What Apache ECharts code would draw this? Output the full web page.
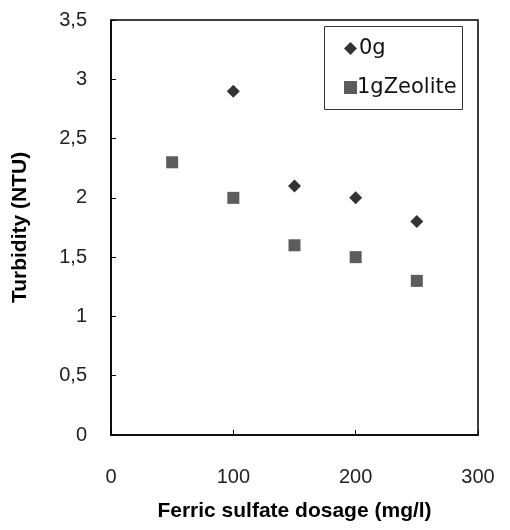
<!DOCTYPE html>
<html><head><meta charset="utf-8">
<script src="https://cdn.jsdelivr.net/npm/echarts@6/dist/echarts.min.js"></script>
<style>html,body{margin:0;padding:0;background:#fff}#c{width:510px;height:530px}</style>
</head><body><div id="c"></div>
<script>
const seriesNames = ['0g', '1gZeolite'];
const dose0g = [100, 150, 200, 250];
const turb0g = [2.9, 2.1, 2.0, 1.8];
const doseZeo = [50, 100, 150, 200, 250];
const turbZeo = [2.3, 2.0, 1.6, 1.5, 1.3];
const xTitle = 'Ferric sulfate dosage (mg/l)';
const yTitle = 'Turbidity (NTU)';

const chart = echarts.init(document.getElementById('c'), null, {renderer: 'canvas'});
const tickFont = {fontFamily: 'Liberation Sans', fontSize: 20, color: '#222'};
const titleFont = {fontFamily: 'Liberation Sans', fontWeight: 'bold', fontSize: 21, color: '#000'};
chart.setOption({
  animation: false,
  backgroundColor: '#fff',
  grid: {left: 111, right: 32, top: 20, bottom: 95, show: true, borderColor: '#000', borderWidth: 1.5},
  graphic: [{type: 'rect', left: 324, top: 26, shape: {width: 138, height: 83}, style: {fill: '#fff', stroke: '#333', lineWidth: 1}, z: 50}],
  legend: {
    left: 339, top: 33, orient: 'vertical', itemGap: 18, itemWidth: 13, itemHeight: 13, z: 60,
    data: [
      {name: seriesNames[0], icon: 'diamond'},
      {name: seriesNames[1], icon: 'rect', textStyle: {padding: [0, 0, 0, -5]}}
    ],
    textStyle: {fontFamily: 'DejaVu Sans', fontSize: 21, color: '#111', padding: [0, 0, 0, -3]}
  },
  xAxis: {
    type: 'value', min: 0, max: 300, interval: 100,
    name: xTitle, nameLocation: 'middle', nameGap: 66,
    nameTextStyle: titleFont,
    axisLine: {show: true, lineStyle: {color: '#000', width: 1.5}},
    axisTick: {show: true, inside: true, length: 5, lineStyle: {color: '#000'}},
    axisLabel: Object.assign({margin: 32}, tickFont),
    splitLine: {show: false}
  },
  yAxis: {
    type: 'value', min: 0, max: 3.5, interval: 0.5,
    name: yTitle, nameLocation: 'middle', nameGap: 80,
    nameTextStyle: titleFont,
    axisLine: {show: true, lineStyle: {color: '#000', width: 1.5}},
    axisTick: {show: true, inside: true, length: 5, lineStyle: {color: '#000'}},
    axisLabel: Object.assign({margin: 24, formatter: v => String(v).replace('.', ',')}, tickFont),
    splitLine: {show: false}
  },
  series: [
    {name: seriesNames[0], type: 'scatter', symbol: 'diamond', symbolSize: 13,
     itemStyle: {color: '#000'}, data: dose0g.map((x, i) => [x, turb0g[i]])},
    {name: seriesNames[1], type: 'scatter', symbol: 'rect', symbolSize: 12,
     itemStyle: {color: '#333'}, data: doseZeo.map((x, i) => [x, turbZeo[i]])}
  ]
});
</script></body></html>
